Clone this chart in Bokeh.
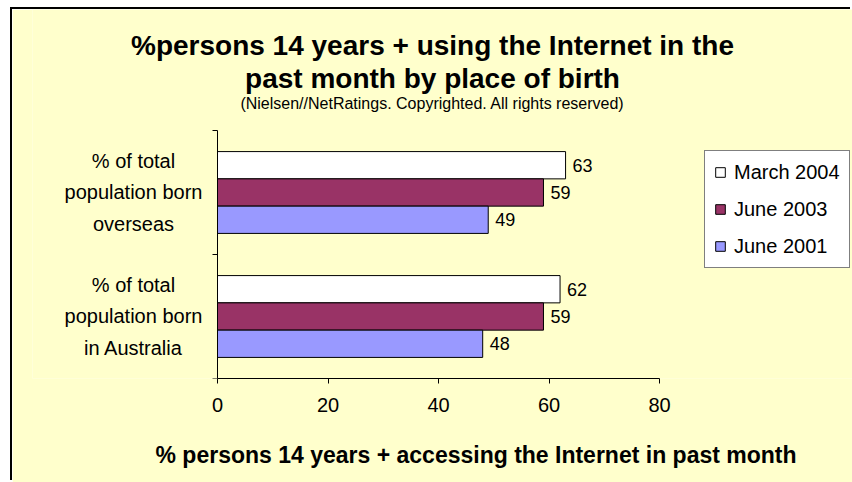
from bokeh.plotting import figure
from bokeh.models import ColumnDataSource, FixedTicker, Label, Legend, LegendItem, Range1d, LinearAxis, Title
from bokeh.embed import file_html
from bokeh.resources import INLINE
from bokeh.core.properties import value

# ---- data ----
categories = ["% of total\npopulation born\nin Australia", "% of total\npopulation born\noverseas"]
series_names = ["March 2004", "June 2003", "June 2001"]
march_2004 = [62, 63]
june_2003 = [59, 59]
june_2001 = [48, 49]
x_ticks = [0, 20, 40, 60, 80]

title_lines = ["%persons 14 years + using the Internet in the", "past month by place of birth"]
subtitle = "(Nielsen//NetRatings. Copyrighted. All rights reserved)"
x_title = "% persons 14 years + accessing the Internet in past month"

# ---- style / layout ----
colors = ["#FFFFFF", "#993366", "#9999FF"]
FONT = "Liberation Sans"
BG = "#FFFFCC"
W, H = 840, 473            # figure size (page offset 12, 9)
LEFT_B, BOTTOM_B = 20, 104
AX_X0 = 217 - 12 - LEFT_B  # screen px of x=0 inside frame
PX_X = 442 / 80.0          # px per x unit
PX_Y = 124.0               # px per category band
frame_w = W - LEFT_B
frame_h = H - BOTTOM_B

x_start = -AX_X0 / PX_X
p = figure(width=W, height=H,
           x_range=Range1d(x_start, x_start + frame_w / PX_X),
           y_range=Range1d(0, frame_h / PX_Y),
           output_backend="svg", toolbar_location=None,
           min_border_left=LEFT_B, min_border_right=0, min_border_top=0, min_border_bottom=BOTTOM_B,
           background_fill_color=BG, border_fill_color=BG, outline_line_color=None)
p.margin = (9, 0, 0, 12)
p.styles = {"box-shadow": "-2px -2px 0 0 #000000"}
p.xgrid.visible = False
p.ygrid.visible = False

n_cat = len(categories)
cat_pos = [i + 0.5 for i in range(n_cat)]
bar_h = 0.22
offsets = [bar_h, 0.0, -bar_h]
series = [march_2004, june_2003, june_2001]

renderers = []
for name, vals, off, col in zip(series_names, series, offsets, colors):
    src = ColumnDataSource(dict(y=[c + off for c in cat_pos], right=vals,
                                lbl=[str(v) for v in vals]))
    r = p.hbar(y="y", right="right", left=0, height=bar_h, source=src,
               fill_color=col, line_color="black", line_width=1)
    renderers.append(r)
    p.text(x="right", y="y", text="lbl", source=src, x_offset=7,
           text_baseline="middle", text_align="left", text_font_size="18px",
           text_font=value(FONT), text_color="black")

# category labels (centered multi-line) left of the value axis
cat_src = ColumnDataSource(dict(x=[x_ticks[0]] * n_cat, y=cat_pos, t=categories))
p.text(x="x", y="y", text="t", source=cat_src, x_offset=-84,
       text_align="center", text_baseline="middle", text_line_height=1.45,
       text_font_size="20px", text_font=value(FONT), text_color="black")

# x axis
xa = p.xaxis[0]
xa.bounds = (x_ticks[0], x_ticks[-1])
xa.ticker = FixedTicker(ticks=x_ticks)
xa.major_tick_in = 0
xa.major_tick_out = 5
xa.minor_tick_line_color = None
xa.axis_line_color = "black"
xa.major_tick_line_color = "black"
xa.major_label_text_font = FONT
xa.major_label_text_font_size = "20px"
xa.major_label_text_color = "black"
xa.major_label_standoff = 14

# invisible spacer axis, then the axis title (left-aligned with an offset)
spacer = LinearAxis(ticker=FixedTicker(ticks=[x_ticks[0]]), major_tick_out=27, major_tick_in=0,
                    axis_line_color=None, major_tick_line_color=None, minor_tick_line_color=None,
                    major_label_overrides={x_ticks[0]: ""}, major_label_standoff=0,
                    major_label_text_font_size="0px")
p.add_layout(spacer, "below")
xt = Title(text=x_title, align="left", offset=123, standoff=0, vertical_align="top",
           text_font=FONT, text_font_style="bold", text_font_size="23px", text_color="black")
p.add_layout(xt, "below")

# y axis drawn at x = 0
ya = p.yaxis[0]
ya.fixed_location = x_ticks[0]
ya.bounds = (0, n_cat)
ya.ticker = FixedTicker(ticks=list(range(n_cat + 1)))
ya.major_label_overrides = {i: "" for i in range(n_cat + 1)}
ya.major_label_standoff = 0
ya.major_tick_in = 0
ya.major_tick_out = 5
ya.minor_tick_line_color = None
ya.axis_line_color = "black"
ya.major_tick_line_color = "black"

# titles (screen units: x from frame left, y up from frame bottom)
cx = 432 - 12 - LEFT_B
for txt, yy, size, style in [(title_lines[0], 333, "28px", "bold"),
                             (title_lines[1], 300, "28px", "bold"),
                             (subtitle, 275, "16px", "normal")]:
    p.add_layout(Label(x=cx, y=yy, x_units="screen", y_units="screen", text=txt,
                       text_align="center", text_baseline="middle", text_font=FONT,
                       text_font_style=style, text_font_size=size, text_color="black"))

legend = Legend(items=[LegendItem(label=n, renderers=[r]) for n, r in zip(series_names, renderers)],
                location=(704 - 12 - LEFT_B, 110))
legend.border_line_color = "black"
legend.border_line_width = 1
legend.background_fill_color = "white"
legend.background_fill_alpha = 1
legend.label_text_font = FONT
legend.label_text_font_size = "20px"
legend.label_text_color = "black"
legend.glyph_width = 12
legend.glyph_height = 12
legend.label_height = 24
legend.label_width = 106
legend.spacing = 13
legend.padding = 9
legend.label_standoff = 8
legend.margin = 0
p.add_layout(legend)

open("out.html", "w").write(file_html(p, INLINE))
